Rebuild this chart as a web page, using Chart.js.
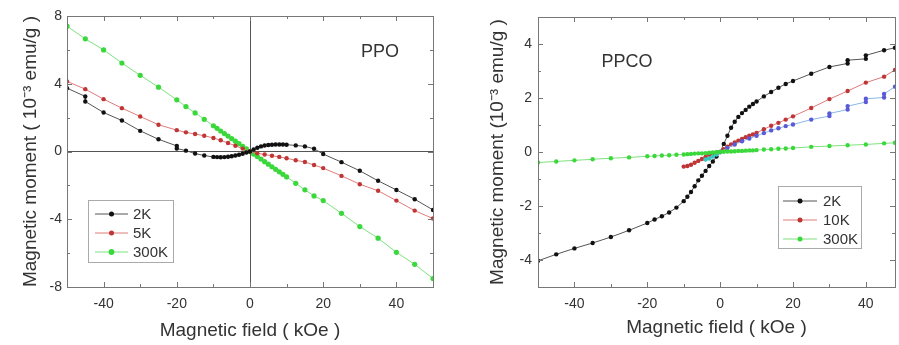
<!DOCTYPE html>
<html>
<head>
<meta charset="utf-8">
<script src="https://cdn.jsdelivr.net/npm/chart.js@4.4.1/dist/chart.umd.min.js"></script>
<style>
html, body { margin: 0; padding: 0; background: #fff; }
#wrap { position: relative; width: 899px; height: 345px; overflow: hidden; }
canvas { position: absolute; top: 0; }
</style>
</head>
<body>
<div id="wrap">
  <canvas id="ppo" width="450" height="345" style="left:0"></canvas>
  <canvas id="ppco" width="449" height="345" style="left:450px"></canvas>
</div>
<script>
// ---- PPO (left panel) ----
const ppo2kField = [-50,-45,-45,-40,-35,-30,-25,-20,-20,-17.5,-15,-12.5,-10,-9,-8,-7,-6,-5,-4,-3,-2,-1,0,1,2,3,4,5,6,7,8,9,10,12.5,15,17.5,20,25,30,35,40,45,50];
const ppo2kMoment = [3.74,3.25,2.95,2.3,1.83,1.22,0.72,0.33,0.18,0.05,-0.12,-0.24,-0.32,-0.33,-0.34,-0.33,-0.31,-0.28,-0.24,-0.19,-0.13,-0.06,0,0.12,0.22,0.3,0.35,0.38,0.4,0.41,0.41,0.41,0.4,0.36,0.3,0.16,-0.15,-0.63,-1.14,-1.73,-2.27,-2.82,-3.45];

const ppo5kField = [-50,-45,-40,-35,-30,-25,-20,-17.5,-15,-12.5,-10,-8,-6,-4,-2,0,2,4,6,8,10,12.5,15,17.5,20,25,30,35,40,45,50];
const ppo5kMoment = [4.14,3.68,3.09,2.56,2.07,1.58,1.26,1.13,1.03,0.93,0.8,0.66,0.5,0.34,0.17,0,-0.1,-0.18,-0.25,-0.32,-0.4,-0.52,-0.62,-0.8,-0.98,-1.44,-1.93,-2.32,-2.9,-3.49,-3.96];

const ppo300kField = [-50,-45,-40,-35,-30,-25,-20,-17.5,-15,-12.5,-10,-9,-8,-7,-6,-5,-4,-3,-2,-1,0,1,2,3,4,5,6,7,8,9,10,12.5,15,17.5,20,25,30,35,40,45,50];
const ppo300kMoment = [7.4,6.65,6.0,5.22,4.5,3.8,3.05,2.65,2.28,1.9,1.52,1.37,1.21,1.06,0.91,0.76,0.61,0.46,0.3,0.15,0,-0.15,-0.3,-0.45,-0.6,-0.75,-0.9,-1.05,-1.2,-1.35,-1.5,-1.88,-2.26,-2.62,-2.9,-3.65,-4.43,-5.12,-5.95,-6.66,-7.5];

// ---- PPCO (right panel) ----
const ppco2kField = [-50,-45,-40,-35,-30,-25,-20,-18,-16,-14,-12,-10,-9,-8,-7,-6,-5,-4,-3,-2,-1,0,1,2,3,4,5,6,7,8,9,10,12,14,16,18,20,25,30,35,35,40,40,45,48];
const ppco2kMoment = [-4.03,-3.79,-3.57,-3.37,-3.15,-2.9,-2.63,-2.5,-2.38,-2.24,-2.06,-1.82,-1.66,-1.48,-1.27,-1.05,-0.88,-0.7,-0.52,-0.35,-0.17,0,0.3,0.6,0.9,1.12,1.3,1.44,1.56,1.68,1.78,1.87,2.06,2.22,2.38,2.52,2.63,2.9,3.15,3.28,3.4,3.45,3.58,3.77,3.86];

const ppco10kField = [-10,-9,-8,-7,-6,-5,-4,-3,-2,-1,0,1,2,3,4,5,6,7,8,9,10,12,14,16,18,20,25,30,35,40,45,48];
const ppco10kMoment = [-0.54,-0.52,-0.47,-0.4,-0.33,-0.26,-0.18,-0.1,-0.05,-0.02,0,0.1,0.2,0.28,0.35,0.42,0.48,0.55,0.6,0.65,0.71,0.84,0.97,1.08,1.2,1.32,1.63,1.96,2.26,2.57,2.79,3.04];

const ppcoExtraField = [0,2,4,6,8,10,12,14,16,18,20,25,30,30,35,35,40,40,45,45,48];
const ppcoExtraMoment = [0,0.15,0.28,0.4,0.5,0.6,0.7,0.8,0.88,0.96,1.02,1.2,1.33,1.43,1.57,1.7,1.85,1.97,2.02,2.15,2.42];

const ppco300kField = [-50,-45,-40,-35,-30,-25,-20,-18,-16,-14,-12,-10,-9,-8,-7,-6,-5,-4,-3,-2,-1,0,1,2,3,4,5,6,7,8,9,10,12,14,16,18,20,25,30,35,40,45,48];
const ppco300kMoment = [-0.39,-0.35,-0.31,-0.27,-0.23,-0.2,-0.16,-0.15,-0.13,-0.12,-0.1,-0.09,-0.08,-0.07,-0.06,-0.05,-0.05,-0.04,-0.03,-0.02,-0.01,0,0.01,0.02,0.02,0.03,0.04,0.04,0.05,0.06,0.06,0.07,0.09,0.1,0.12,0.13,0.15,0.19,0.22,0.25,0.28,0.32,0.34];

const ppcoTealField = [-4,-3,-2,-1,0];
const ppcoTealMoment = [-0.28,-0.24,-0.17,-0.09,0];

// tick labels
const fieldTickLabels = [-40, -20, 0, 20, 40];
const ppoMomentTickLabels = [8, 4, 0, -4, -8];
const ppcoMomentTickLabels = [4, 2, 0, -2, -4];

// legend entries, top to bottom
const ppoLegendOrder = ['2K', '5K', '300K'];
const ppcoLegendOrder = ['2K', '10K', '300K'];

Chart.defaults.font.family = '"Liberation Sans", Arial, sans-serif';

function series(label, field, moment, color, lineColor, radius) {
    return {
        label: label,
        data: field.map((f, i) => ({ x: f, y: moment[i] })),
        borderColor: lineColor,
        borderWidth: 1,
        backgroundColor: color,
        pointBackgroundColor: color,
        pointBorderColor: color,
        pointBorderWidth: 0,
        pointRadius: radius,
        tension: 0
    };
}

// box + inward tick marks
const framePlugin = {
    id: 'frame',
    afterDatasetsDraw(chart) {
        const { ctx, chartArea: a, scales: { x, y } } = chart;
        ctx.save();
        ctx.strokeStyle = '#777';
        ctx.lineWidth = 1;
        ctx.strokeRect(Math.round(a.left) + 0.5, Math.round(a.top) + 0.5, a.right - a.left, a.bottom - a.top);
        ctx.beginPath();
        x.ticks.forEach(t => {
            const px = Math.round(x.getPixelForValue(t.value)) + 0.5;
            const len = fieldTickLabels.includes(t.value) ? 5 : 3;
            ctx.moveTo(px, a.bottom); ctx.lineTo(px, a.bottom - len);
            ctx.moveTo(px, a.top); ctx.lineTo(px, a.top + len);
        });
        y.ticks.forEach(t => {
            const py = Math.round(y.getPixelForValue(t.value)) + 0.5;
            const len = t.label !== '' ? 5 : 3;
            ctx.moveTo(a.left, py); ctx.lineTo(a.left + len, py);
            ctx.moveTo(a.right, py); ctx.lineTo(a.right - len, py);
        });
        ctx.stroke();
        ctx.restore();
    }
};

// legend box inside the plot
const boxLegendPlugin = {
    id: 'boxLegend',
    afterDraw(chart, args, o) {
        const ctx = chart.ctx;
        ctx.save();
        ctx.fillStyle = '#fff';
        ctx.fillRect(o.left, o.top, o.width, o.height);
        ctx.strokeStyle = '#aaa';
        ctx.lineWidth = 1;
        ctx.strokeRect(o.left + 0.5, o.top + 0.5, o.width, o.height);
        ctx.font = '15px "Liberation Sans", Arial, sans-serif';
        ctx.textBaseline = 'middle';
        o.order.forEach((name, row) => {
            const ds = chart.data.datasets.find(d => d.label === name);
            const yy = o.firstRow + row * o.rowGap;
            ctx.strokeStyle = ds.borderColor;
            ctx.beginPath();
            ctx.moveTo(o.lineFrom, yy); ctx.lineTo(o.lineTo, yy);
            ctx.stroke();
            ctx.fillStyle = ds.pointBackgroundColor;
            ctx.beginPath();
            ctx.arc((o.lineFrom + o.lineTo) / 2, yy, ds.pointRadius + 0.3, 0, Math.PI * 2);
            ctx.fill();
            ctx.fillStyle = '#333';
            ctx.fillText(ds.label, o.textX, yy + 1);
        });
        ctx.restore();
    }
};

const panelLabelPlugin = {
    id: 'panelLabel',
    afterDraw(chart, args, o) {
        const ctx = chart.ctx;
        ctx.save();
        ctx.font = '18px "Liberation Sans", Arial, sans-serif';
        ctx.fillStyle = '#333';
        ctx.textAlign = 'center';
        ctx.textBaseline = 'middle';
        ctx.fillText(o.text, o.x, o.y);
        ctx.restore();
    }
};

function makeChart(id, datasets, cfg) {
    return new Chart(document.getElementById(id), {
        type: 'line',
        data: { datasets: datasets },
        options: {
            responsive: false,
            animation: false,
            layout: { padding: { top: cfg.padTop, right: cfg.padRight, left: 0, bottom: 0 } },
            plugins: {
                legend: { display: false },
                tooltip: { enabled: false },
                boxLegend: cfg.legend,
                panelLabel: cfg.label
            },
            scales: {
                x: {
                    type: 'linear', min: -50, max: cfg.xMax,
                    afterFit: s => { s.height = 58; },
                    border: { display: false },
                    grid: {
                        drawTicks: false,
                        color: c => (cfg.cross && c.tick && c.tick.value === 0) ? '#555' : 'rgba(0,0,0,0)'
                    },
                    ticks: {
                        stepSize: 10, includeBounds: false, autoSkip: false, maxRotation: 0,
                        padding: 9, color: '#333', font: { size: 14 },
                        callback: v => fieldTickLabels.includes(v) ? String(v) : ''
                    },
                    title: {
                        display: true, text: 'Magnetic field ( kOe )', color: '#333',
                        font: { size: 19 }, padding: { top: 0, bottom: cfg.xTitlePad }
                    }
                },
                y: {
                    min: cfg.yMin, max: cfg.yMax,
                    afterFit: s => { s.width = cfg.yWidth; },
                    border: { display: false },
                    grid: {
                        drawTicks: false,
                        color: c => (cfg.cross && c.tick && c.tick.value === 0) ? '#555' : 'rgba(0,0,0,0)'
                    },
                    ticks: {
                        stepSize: cfg.yStep, autoSkip: false, padding: cfg.yTickPad,
                        color: '#333', font: { size: 14 },
                        callback: v => cfg.yLabels.includes(v) ? String(v) : ''
                    },
                    title: {
                        display: true, text: cfg.yTitle, color: '#333',
                        font: { size: 19 }, padding: { top: cfg.yTitlePad, bottom: 0 }
                    }
                }
            }
        },
        plugins: [framePlugin, boxLegendPlugin, panelLabelPlugin]
    });
}

makeChart('ppo', [
    series('2K', ppo2kField, ppo2kMoment, '#111', '#555', 2.2),
    series('5K', ppo5kField, ppo5kMoment, '#c03535', '#e07a7a', 2.2),
    series('300K', ppo300kField, ppo300kMoment, '#3ad83a', '#7ee27e', 2.6)
], {
    padTop: 16, padRight: 17, xMax: 50, cross: true, xTitlePad: 3,
    yMin: -8, yMax: 8, yStep: 2, yLabels: ppoMomentTickLabels,
    yWidth: 67, yTickPad: 5, yTitlePad: 19,
    yTitle: 'Magnetic moment ( 10\u207B\u00B3 emu/g )',
    legend: { order: ppoLegendOrder, left: 88, top: 200, width: 85, height: 62, firstRow: 214, rowGap: 19, lineFrom: 95, lineTo: 128, textX: 133 },
    label: { text: 'PPO', x: 380, y: 52 }
});

makeChart('ppco', [
    series('300K', ppco300kField, ppco300kMoment, '#3ad83a', '#7ee27e', 2.2),
    series('', ppcoTealField, ppcoTealMoment, '#33c8c0', '#66d8d0', 2.2),
    series('', ppcoExtraField, ppcoExtraMoment, '#5a5ad8', '#8ab8e8', 2.2),
    series('10K', ppco10kField, ppco10kMoment, '#c03535', '#e07a7a', 2.2),
    series('2K', ppco2kField, ppco2kMoment, '#111', '#555', 2.2)
], {
    padTop: 17, padRight: 0, xMax: 48, cross: false, xTitlePad: 6,
    yMin: -5, yMax: 5, yStep: 1, yLabels: ppcoMomentTickLabels,
    yWidth: 88, yTickPad: 6, yTitlePad: 36,
    yTitle: 'Magnetic moment (10\u207B\u00B3 emu/g )',
    legend: { order: ppcoLegendOrder, left: 328, top: 186, width: 83, height: 62, firstRow: 201, rowGap: 19, lineFrom: 333, lineTo: 367, textX: 373 },
    label: { text: 'PPCO', x: 177, y: 62 }
});
</script>
</body>
</html>
